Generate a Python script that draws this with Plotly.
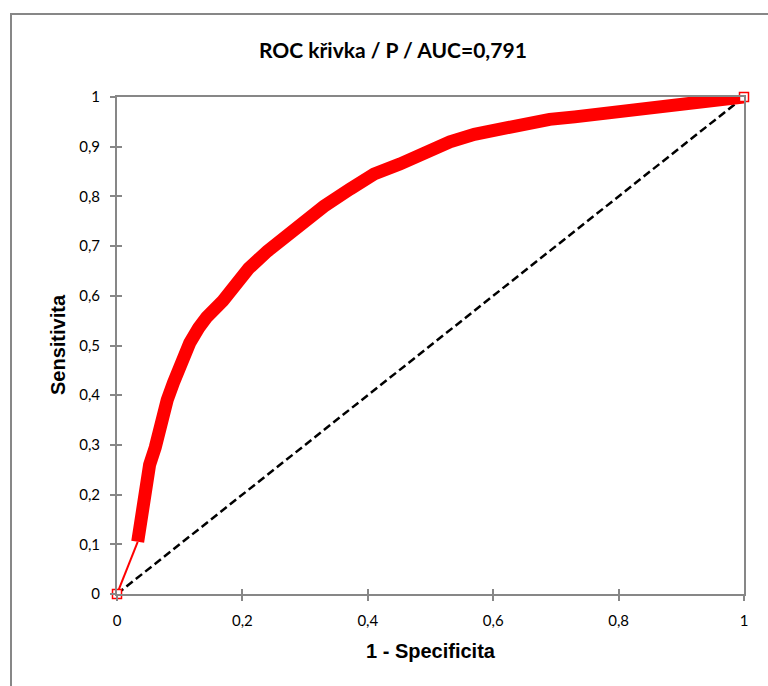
import plotly.graph_objects as go

# ROC curve points (1 - Specificity, Sensitivity)
fpr = [0.033, 0.040, 0.046, 0.052, 0.061, 0.070, 0.080, 0.090, 0.100, 0.116,
       0.130, 0.143, 0.169, 0.190, 0.210, 0.240, 0.270, 0.292, 0.330, 0.372,
       0.410, 0.451, 0.490, 0.531, 0.570, 0.611, 0.650, 0.690, 0.730, 0.770,
       0.820, 0.870, 0.920, 0.960, 0.990]
tpr = [0.105, 0.170, 0.220, 0.260, 0.295, 0.345, 0.390, 0.425, 0.457, 0.505,
       0.535, 0.557, 0.590, 0.625, 0.655, 0.690, 0.720, 0.744, 0.780, 0.815,
       0.845, 0.865, 0.890, 0.910, 0.925, 0.937, 0.947, 0.955, 0.960, 0.965,
       0.972, 0.978, 0.984, 0.990, 0.997]
start_pt = [0.0, 0.0]
end_pt = [1.0, 1.0]
diag_x = [0.0, 1.0]
diag_y = [0.0, 1.0]

title_text = "ROC křivka / P / AUC=0,791"
x_title = "1 - Specificita"
y_title = "Sensitivita"

RED = "#ff0000"
GRAY = "#878787"

fig = go.Figure()
# diagonal reference
fig.add_trace(go.Scatter(x=diag_x, y=diag_y, mode="lines",
                         line=dict(color="black", width=2.5, dash="8px,4px"),
                         hoverinfo="skip", showlegend=False, cliponaxis=False))
# thin starting segment
fig.add_trace(go.Scatter(x=[start_pt[0], fpr[0]], y=[start_pt[1], tpr[0]], mode="lines",
                         line=dict(color=RED, width=2), showlegend=False, cliponaxis=False))
# thick band of points
fig.add_trace(go.Scatter(x=fpr + [end_pt[0]], y=tpr + [end_pt[1]], mode="lines",
                         line=dict(color=RED, width=13), showlegend=False, cliponaxis=False))
# hollow squares at ends
fig.add_trace(go.Scatter(x=[start_pt[0], end_pt[0]], y=[start_pt[1], end_pt[1]], mode="markers",
                         marker=dict(symbol="square", size=9, color="white",
                                     line=dict(color=RED, width=1.5)),
                         showlegend=False, cliponaxis=False))
# invisible trace for overlay axes (inside ticks)
fig.add_trace(go.Scatter(x=[0], y=[0], xaxis="x2", yaxis="y2", mode="markers",
                         marker=dict(opacity=0), showlegend=False, hoverinfo="skip"))

tickfont = dict(family="Lato", size=15, color="black")
fig.update_layout(
    width=768, height=686,
    margin=dict(l=117, r=24, t=97, b=92),
    paper_bgcolor="white", plot_bgcolor="white",
    separators=", ",
    xaxis=dict(range=[0, 1], dtick=0.2, tick0=0, showgrid=False, zeroline=False,
               showline=True, linecolor=GRAY, linewidth=2, mirror=True,
               ticks="outside", ticklen=5, tickwidth=1.5, tickcolor=GRAY,
               ticklabelstandoff=7, tickfont=tickfont, fixedrange=True),
    yaxis=dict(range=[0, 1], dtick=0.1, tick0=0, showgrid=False, zeroline=False,
               showline=True, linecolor=GRAY, linewidth=2, mirror=True,
               ticks="outside", ticklen=5, tickwidth=1.5, tickcolor=GRAY,
               ticklabelstandoff=7, tickfont=tickfont, fixedrange=True),
    xaxis2=dict(range=[0, 1], dtick=0.2, tick0=0, overlaying="x", showgrid=False,
                zeroline=False, showline=False, ticks="inside", ticklen=5, tickwidth=1.5,
                tickcolor=GRAY, showticklabels=False, side="bottom"),
    yaxis2=dict(range=[0, 1], dtick=0.1, tick0=0, overlaying="y", showgrid=False,
                zeroline=False, showline=False, ticks="inside", ticklen=5, tickwidth=1.5,
                tickcolor=GRAY, showticklabels=False, side="left"),
    annotations=[
        # outer chart frame (only left and top edges fall inside the page)
        dict(text="", xref="paper", yref="paper", x=-107 / 627, y=1 + 84 / 497,
             xanchor="left", yanchor="top", showarrow=False, width=900, height=800,
             bordercolor=GRAY, borderwidth=2, borderpad=0),
        dict(text="<b>%s</b>" % title_text, xref="paper", yref="paper",
             x=(393 - 117) / 627, y=(594 - 50) / 497, xanchor="center", yanchor="middle",
             showarrow=False, font=dict(family="Lato", size=21, color="black")),
        dict(text="<b>%s</b>" % x_title, xref="paper", yref="paper",
             x=0.5, y=(594 - 651) / 497, xanchor="center", yanchor="middle",
             showarrow=False, font=dict(family="Liberation Sans", size=20, color="black")),
        dict(text="<b>%s</b>" % y_title, xref="paper", yref="paper",
             x=(58 - 117) / 627, y=(594 - 345) / 497, xanchor="center", yanchor="middle",
             textangle=-90, showarrow=False,
             font=dict(family="Liberation Sans", size=20, color="black")),
    ],
)

fig.write_html("out.html", config={"displayModeBar": False})
